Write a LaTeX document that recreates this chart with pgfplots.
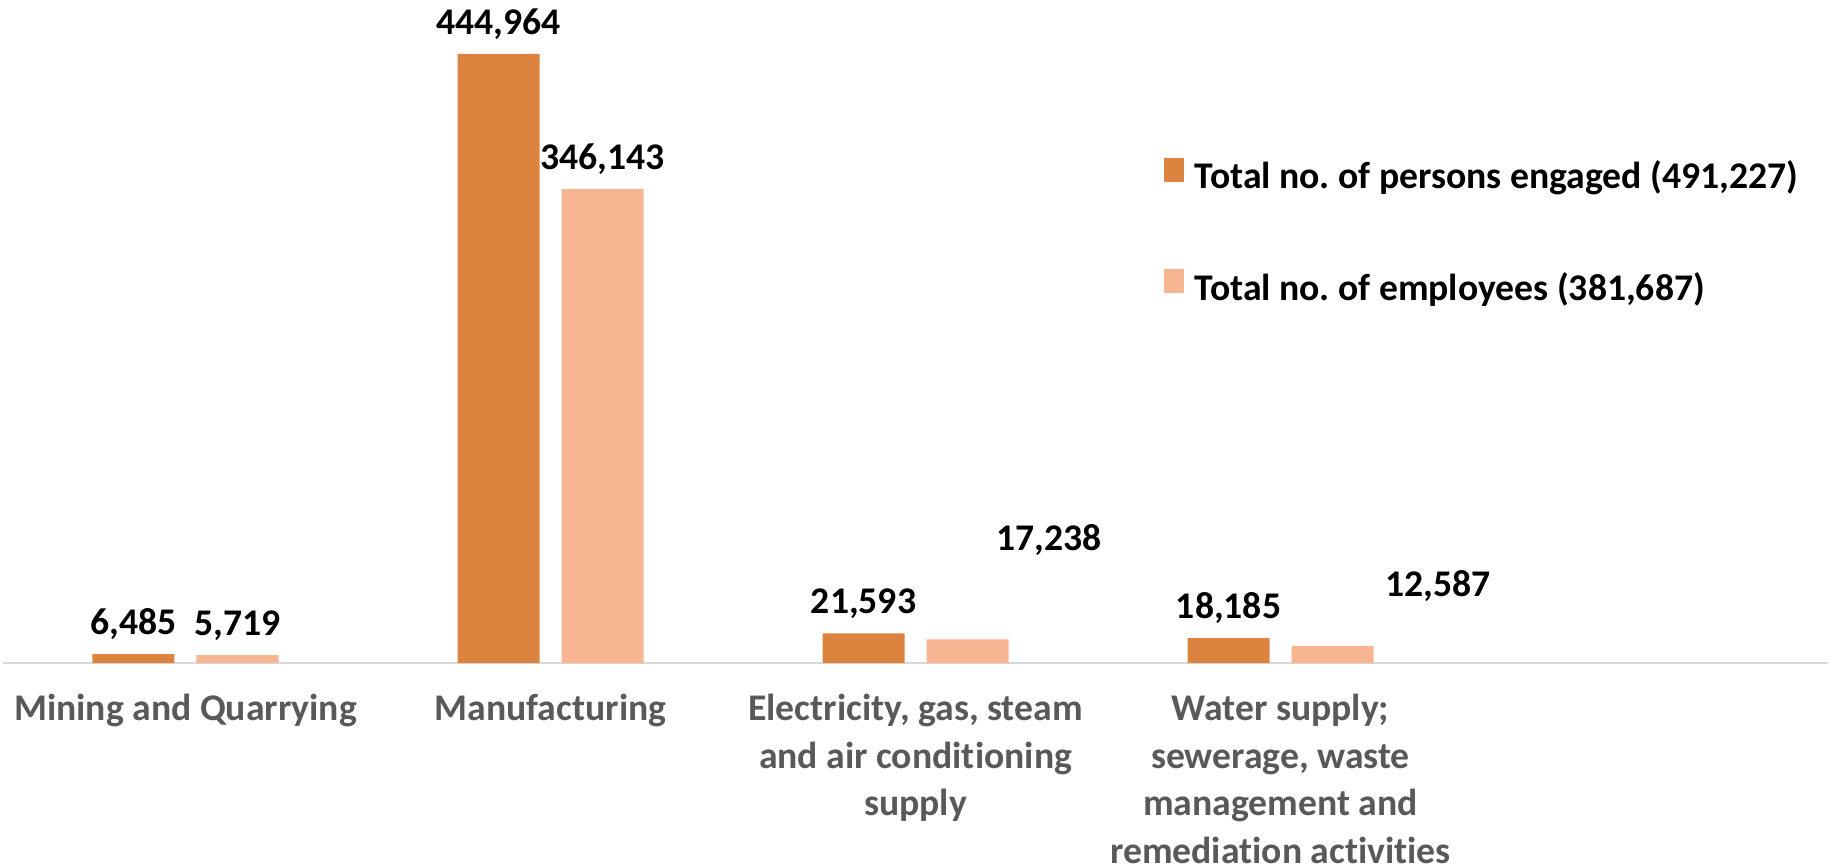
\documentclass[border=0pt]{standalone}
\usepackage{pgfplots}
\pgfplotsset{compat=1.18}
\usepackage{fontspec}
\setmainfont{Carlito}[RawFeature={-liga;-clig;-dlig}]
\frenchspacing
\definecolor{darkor}{HTML}{DC843F}
\definecolor{lightor}{HTML}{F8B592}
\definecolor{axgray}{HTML}{D9D9D9}
\definecolor{txtgray}{HTML}{595959}
\pgfplotsset{sqleg/.style={legend image code/.code={\fill[##1] (0pt,-0.6pt) rectangle (6pt,6.6pt);}}}
\begin{document}
\begin{tikzpicture}
\begin{axis}[
  scale only axis, width=547.5pt, height=197.1pt,
  xmin=-0.5, xmax=4.5, ymin=0, ymax=480000,
  ybar=6.6pt, bar width=24.6pt,
  axis x line*=bottom, axis y line=none,
  x axis line style={axgray, line width=0.75pt},
  xtick={0,1,2,3}, major tick length=0pt,
  xticklabels={{Mining and Quarrying},{Manufacturing},{Electricity, gas, steam\\and air conditioning\\supply},{Water supply;\\sewerage, waste\\management and\\remediation activities}},
  xticklabel style={anchor=north, inner sep=0pt, yshift=-9.2pt, align=center, text=txtgray, font=\fontsize{11.3}{14.25}\selectfont\bfseries},
  nodes near coords, point meta=explicit symbolic,
  nodes near coords style={font=\fontsize{11.3}{13}\selectfont\bfseries, anchor=base, inner sep=0pt, yshift=5.9pt, text=black},
  legend cell align=left,
  legend style={at={(rel axis cs:0.636,0.769)}, anchor=north west, draw=none, fill=none, inner sep=0pt, outer sep=0pt, row sep=21.5pt, column sep=3.3pt, font=\fontsize{11.3}{13}\selectfont\bfseries, nodes={inner sep=0pt, text height=8pt, text depth=2.5pt}},
  clip=false,
]
\addplot[fill=darkor, draw=none, sqleg] coordinates {(0,6485) [6,485] (1,444964) [444,964] (2,21593) [21,593] (3,18185) [18,185]};
\addplot[fill=lightor, draw=none, sqleg] coordinates {(0,5719) [5,719] (1,346143) [346,143] (2,17238) [] (3,12587) []};
\legend{{Total no. of persons engaged (491,227)},{Total no. of employees (381,687)}}
\node[anchor=base, inner sep=0pt, font=\fontsize{11.3}{13}\selectfont\bfseries] at (axis cs:2.365,82200) {17,238};
\node[anchor=base, inner sep=0pt, font=\fontsize{11.3}{13}\selectfont\bfseries] at (axis cs:3.432,48600) {12,587};
\end{axis}
\pgfresetboundingbox
\path[use as bounding box] (-0.9pt,-60.6pt) rectangle (549.3pt,198.9pt);
\end{tikzpicture}
\end{document}
